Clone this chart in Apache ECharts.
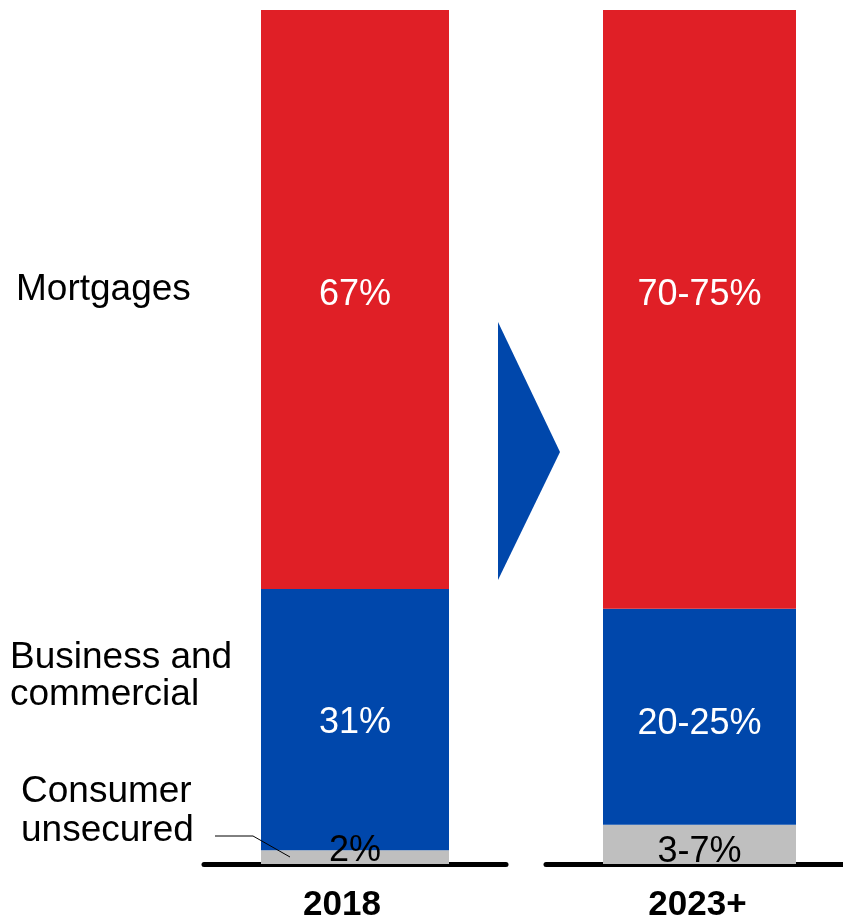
<!DOCTYPE html>
<html>
<head>
<meta charset="utf-8">
<script src="https://cdn.jsdelivr.net/npm/echarts@6/dist/echarts.min.js"></script>
<style>
html,body{margin:0;padding:0;background:#fff;}
#chart{width:843px;height:920px;}
</style>
</head>
<body>
<div id="chart"></div>
<script>
const categories = ['2018', '2023+'];
const segmentNames = ['Consumer unsecured', 'Business and commercial', 'Mortgages'];
const consumer = [1.6, 4.6];
const business = [30.6, 25.3];
const mortgages = [67.8, 70.1];
const consumerLabels = ['2%', '3-7%'];
const businessLabels = ['31%', '20-25%'];
const mortgageLabels = ['67%', '70-75%'];

const FONT = '"Liberation Sans", Arial, Helvetica, sans-serif';
const RED = '#E01F26', BLUE = '#0047AB', GREY = '#BFBFBF';

const chart = echarts.init(document.getElementById('chart'));

const grids = [
  {left: 204, width: 302, top: 10, bottom: 56, outerBoundsMode: 'none', containLabel: false},
  {left: 546, width: 307, top: 10, bottom: 56, outerBoundsMode: 'none', containLabel: false}
];
const barWidths = [188, 193];
const consumerOffsets = [[0, -6], [0, 8]];
const businessOffsets = [[0, 3], [0, 7]];
const mortgageOffsets = [[0, -4], [0, -14]];
const labelPads = [[0, 26, 0, 0], [0, 4, 0, 0]];

const xAxes = categories.map((c, i) => ({
  type: 'category', gridIndex: i, data: [c], offset: 4,
  axisLine: {show: true, lineStyle: {color: '#000', width: 5}},
  axisTick: {show: false},
  axisLabel: {color: '#000', fontFamily: FONT, fontWeight: 'bold', fontSize: 35, margin: 20, padding: labelPads[i]}
}));
const yAxes = categories.map((c, i) => ({
  type: 'value', gridIndex: i, min: 0, max: 100, show: false
}));

const series = [];
categories.forEach((c, i) => {
  const common = {type: 'bar', xAxisIndex: i, yAxisIndex: i, stack: 's' + i, barWidth: barWidths[i]};
  series.push(Object.assign({}, common, {
    name: segmentNames[0], data: [consumer[i]],
    itemStyle: {color: GREY},
    label: {show: true, position: 'inside', formatter: consumerLabels[i], color: '#000',
      fontFamily: FONT, fontSize: 36, offset: consumerOffsets[i]}
  }));
  series.push(Object.assign({}, common, {
    name: segmentNames[1], data: [business[i]],
    itemStyle: {color: BLUE},
    label: {show: true, position: 'inside', formatter: businessLabels[i], color: '#fff',
      fontFamily: FONT, fontSize: 36, offset: businessOffsets[i]}
  }));
  series.push(Object.assign({}, common, {
    name: segmentNames[2], data: [mortgages[i]],
    itemStyle: {color: RED},
    label: {show: true, position: 'inside', formatter: mortgageLabels[i], color: '#fff',
      fontFamily: FONT, fontSize: 36, offset: mortgageOffsets[i]}
  }));
});

const textStyle = {fill: '#000', fontFamily: FONT, fontSize: 37, verticalAlign: 'middle', align: 'left'};

chart.setOption({
  animation: false,
  grid: grids,
  xAxis: xAxes,
  yAxis: yAxes,
  series: series,
  graphic: [
    {type: 'polygon', shape: {points: [[498, 322], [560, 452], [498, 580]]}, style: {fill: BLUE}, z: 10},
    {type: 'polyline', shape: {points: [[215, 836], [253, 836], [290, 857]]}, style: {stroke: '#000', lineWidth: 1, fill: null}, z: 20},
    {type: 'text', x: 16, y: 290, style: Object.assign({text: 'Mortgages'}, textStyle), z: 10},
    {type: 'text', x: 10, y: 658, style: Object.assign({text: 'Business and'}, textStyle), z: 10},
    {type: 'text', x: 10, y: 695, style: Object.assign({text: 'commercial'}, textStyle), z: 10},
    {type: 'text', x: 21, y: 792, style: Object.assign({text: 'Consumer'}, textStyle), z: 10},
    {type: 'text', x: 21, y: 831, style: Object.assign({text: 'unsecured'}, textStyle), z: 10}
  ]
});
</script>
</body>
</html>
